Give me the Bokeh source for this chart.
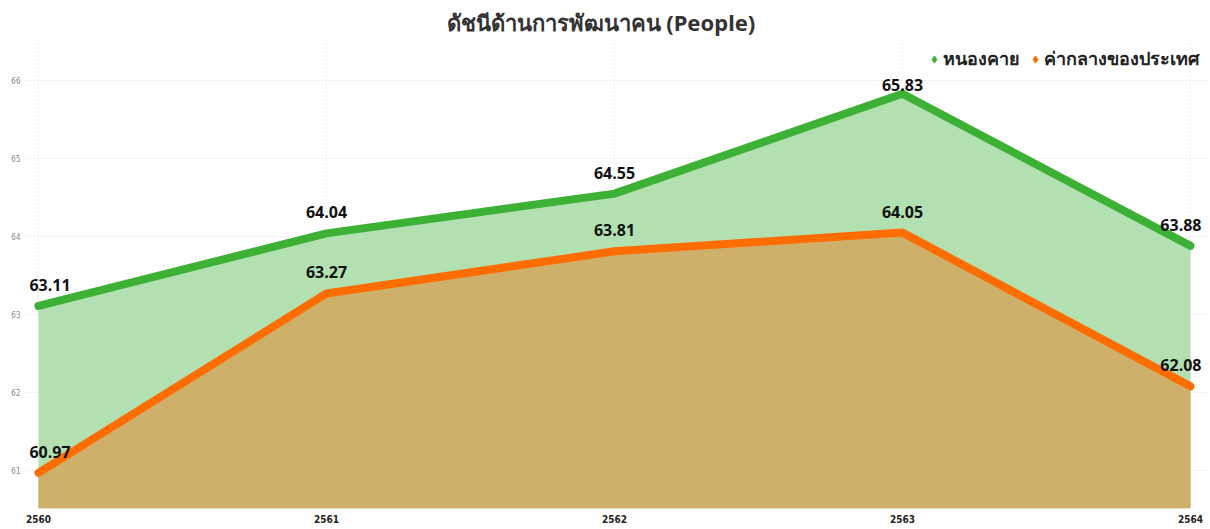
from bokeh.plotting import figure
from bokeh.models import Range1d, Legend, LegendItem, FixedTicker, ColumnDataSource
from bokeh.embed import file_html
from bokeh.resources import INLINE
from bokeh.core.properties import value

years = [2560, 2561, 2562, 2563, 2564]
nongkhai = [63.11, 64.04, 64.55, 65.83, 63.88]
national = [60.97, 63.27, 63.81, 64.05, 62.08]
series_names = ["หนองคาย", "ค่ากลางของประเทศ"]
y_ticks = [61, 62, 63, 64, 65, 66]

GREEN_LINE = "#3db135"
GREEN_FILL = "#b2e0b0"
ORANGE_LINE = "#ff6c00"
ORANGE_FILL = "#cfb06b"

X0, X1 = 2559.955, 2564.059
Y0, Y1 = 60.513, 66.564

p = figure(width=1210, height=529, output_backend="svg", toolbar_location=None,
           x_range=Range1d(X0, X1), y_range=Range1d(Y0, Y1),
           min_border_left=25, min_border_right=3, min_border_top=36, min_border_bottom=21,
           title="ดัชนีด้านการพัฒนาคน (People)")
p.outline_line_color = None
p.background_fill_color = "white"

p.title.align = "left"
p.title.text_font = "Noto Sans"
p.title.text_font_size = "22px"
p.title.text_font_style = "bold"
p.title.text_color = "#333333"
p.title.offset = 421
p.title.standoff = 0

p.grid.grid_line_color = "#d8d8d8"
p.grid.grid_line_dash = "1 3"
p.xgrid.bounds = (Y0, 66)
p.ygrid.bounds = (2559.97, 2564)
p.xaxis.ticker = FixedTicker(ticks=years)
p.yaxis.ticker = FixedTicker(ticks=y_ticks)
for ax in (p.xaxis[0], p.yaxis[0]):
    ax.axis_line_color = None
    ax.major_tick_line_color = None
    ax.minor_tick_line_color = None
    ax.major_tick_out = 0
    ax.major_tick_in = 0
p.xaxis.major_label_text_font = "DejaVu Sans Condensed"
p.xaxis.major_label_text_font_style = "bold"
p.xaxis.major_label_text_font_size = "10px"
p.xaxis.major_label_text_color = "#222222"
p.xaxis.major_label_standoff = 6
p.yaxis.major_label_text_font = "DejaVu Sans Condensed"
p.yaxis.major_label_text_font_size = "8px"
p.yaxis.major_label_text_color = "#888888"
p.yaxis.major_label_standoff = 5

p.varea(x=years, y1=Y0, y2=nongkhai, fill_color=GREEN_FILL)
p.varea(x=years, y1=Y0, y2=national, fill_color=ORANGE_FILL)
# markers hidden beneath the lines; they supply the legend's diamond glyphs
g = p.scatter(years, nongkhai, marker="diamond", size=5, fill_color=GREEN_LINE, line_color=GREEN_LINE)
o = p.scatter(years, national, marker="diamond", size=5, fill_color=ORANGE_LINE, line_color=ORANGE_LINE)
p.line(years, nongkhai, line_color=GREEN_LINE, line_width=8, line_cap="round", line_join="round")
p.line(years, national, line_color=ORANGE_LINE, line_width=8, line_cap="round", line_join="round")

def labels(vals):
    offs = [-15 if v < 65.5 else -3 for v in vals]
    txt = [f"{v:.2f}" for v in vals]
    n = len(vals)
    for idx, align, xo in ((slice(0, 1), "left", -9), (slice(1, n - 1), "center", 0), (slice(n - 1, n), "right", 11)):
        src = ColumnDataSource(dict(x=years[idx], y=vals[idx], t=txt[idx], yo=offs[idx]))
        p.text(x="x", y="y", text="t", source=src, text_align=align, text_baseline="bottom",
               x_offset=xo, y_offset="yo", text_font=value("Open Sans"), text_font_style="bold",
               text_font_size="16px", text_color="#111111")

labels(nongkhai)
labels(national)

legend = Legend(items=[LegendItem(label=series_names[0], renderers=[g]),
                       LegendItem(label=series_names[1], renderers=[o])],
                orientation="horizontal", location="top_right",
                label_text_font="Noto Sans", label_text_font_style="bold",
                label_text_font_size="18px", label_text_color="#222222",
                glyph_width=18, glyph_height=18, label_standoff=0, spacing=6,
                padding=0, margin=8, border_line_color=None, background_fill_alpha=0)
p.add_layout(legend)

open("out.html", "w").write(file_html(p, INLINE))
